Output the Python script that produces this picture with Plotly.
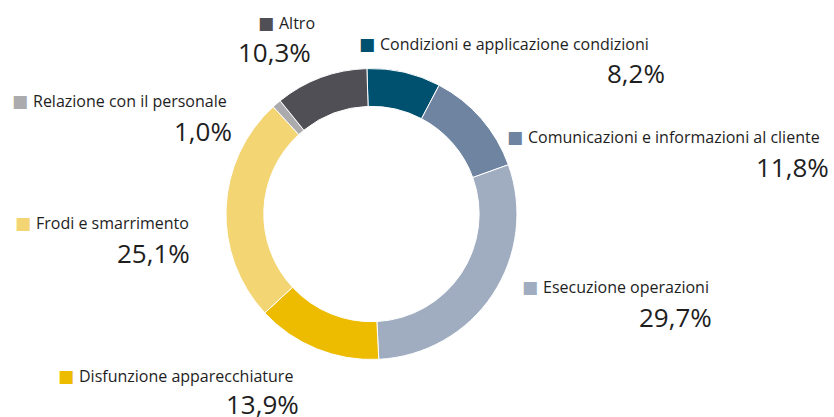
import plotly.graph_objects as go

# Reclami per categoria (quote percentuali)
categories = [
    "Condizioni e applicazione condizioni",
    "Comunicazioni e informazioni al cliente",
    "Esecuzione operazioni",
    "Disfunzione apparecchiature",
    "Frodi e smarrimento",
    "Relazione con il personale",
    "Altro",
]
shares = [8.2, 11.8, 29.7, 13.9, 25.1, 1.0, 10.3]
colors = ["#00506f", "#6f84a1", "#a0adc1", "#edbc00", "#f3d573", "#ababae", "#504f55"]

# Label placement in pixels: (left x of swatch, y of label, right x of value, y of value)
label_px = [
    (360, 44, 667, 73),
    (508, 137, 831, 167),
    (523, 287, 714, 317),
    (59, 376, 301, 404),
    (16, 223, 192, 253),
    (13, 101, 234, 131),
    (259, 23, 313, 52),
]

W, H = 834, 417
FONT = "Open Sans"
TEXT = "#1e1e1e"
SWATCH_GAP = 18


def px_x(v):
    return v / W


def px_y(v):
    return 1 - v / H


fig = go.Figure(
    go.Pie(
        labels=categories,
        values=shares,
        marker=dict(colors=colors, line=dict(color="white", width=1)),
        hole=0.74,
        sort=False,
        direction="clockwise",
        rotation=-1.8,
        textinfo="none",
        hoverinfo="label+percent",
        domain=dict(x=[0.2709, 0.6199], y=[0.1379, 0.8357]),
        showlegend=False,
    )
)

annotations = []
for name, val, col, (sx, ly, rx, vy) in zip(categories, shares, colors, label_px):
    # colour swatch
    annotations.append(
        dict(
            x=px_x(sx - 3), y=px_y(ly), xref="paper", yref="paper",
            xanchor="left", yanchor="middle", text="■", showarrow=False,
            font=dict(family="DejaVu Sans", size=17, color=col),
        )
    )
    # category name
    annotations.append(
        dict(
            x=px_x(sx + SWATCH_GAP), y=px_y(ly), xref="paper", yref="paper",
            xanchor="left", yanchor="middle", text=name, showarrow=False,
            font=dict(family=FONT, size=16, color=TEXT),
        )
    )
    # percentage value
    annotations.append(
        dict(
            x=px_x(rx), y=px_y(vy), xref="paper", yref="paper",
            xanchor="right", yanchor="middle",
            text=f"{val:.1f}%".replace(".", ","),
            showarrow=False, font=dict(family=FONT, size=26, color=TEXT),
        )
    )

fig.update_layout(
    width=W,
    height=H,
    margin=dict(l=0, r=0, t=0, b=0),
    paper_bgcolor="white",
    plot_bgcolor="white",
    annotations=annotations,
)

fig.write_html("out.html")
